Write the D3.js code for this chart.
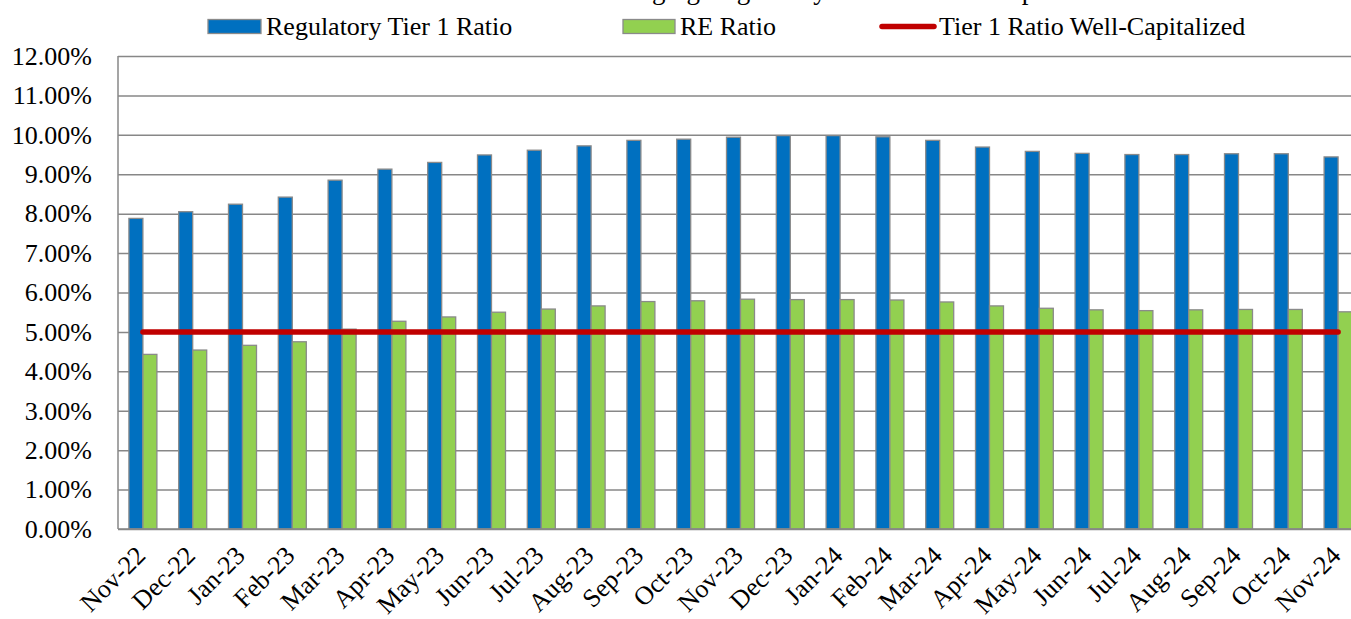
<!DOCTYPE html>
<html>
<head>
<meta charset="utf-8">
<script src="https://cdn.jsdelivr.net/npm/d3@7"></script>
<style>
  body { margin: 0; background: #fff; overflow: hidden; }
  svg { display: block; }
  svg text { font-family: "Liberation Serif", "DejaVu Serif", serif; }
</style>
</head>
<body>
<div id="chart"></div>
<script>
// month labels on the x axis
const months = [
  "Nov-22", "Dec-22", "Jan-23", "Feb-23", "Mar-23", "Apr-23", "May-23",
  "Jun-23", "Jul-23", "Aug-23", "Sep-23", "Oct-23", "Nov-23", "Dec-23",
  "Jan-24", "Feb-24", "Mar-24", "Apr-24", "May-24", "Jun-24", "Jul-24",
  "Aug-24", "Sep-24", "Oct-24", "Nov-24",
];

// values in percent
const tier1Ratio = [
  7.88, 8.05, 8.24, 8.42, 8.85, 9.13, 9.30, 9.49, 9.61, 9.72, 9.86, 9.89,
  9.94, 9.98, 9.98, 9.95, 9.86, 9.69, 9.58, 9.53, 9.50, 9.50, 9.52, 9.52, 9.44,
];
const reRatio = [
  4.43, 4.54, 4.66, 4.75, 5.07, 5.27, 5.38, 5.50, 5.58, 5.66, 5.77, 5.79,
  5.83, 5.82, 5.82, 5.81, 5.76, 5.66, 5.60, 5.56, 5.54, 5.56, 5.57, 5.57, 5.51,
];
const wellCapitalized = [
  5, 5, 5, 5, 5, 5, 5, 5, 5, 5, 5, 5, 5, 5, 5, 5, 5, 5, 5, 5, 5, 5, 5, 5, 5,
];

const yTicks = [0, 1, 2, 3, 4, 5, 6, 7, 8, 9, 10, 11, 12];
const seriesNames = ["Regulatory Tier 1 Ratio", "RE Ratio", "Tier 1 Ratio Well-Capitalized"];
const titleText = "Changing Regulatory Tier 1 Ratio Compared to RE Ratio";

const width = 1351;
const height = 619;
const marginLeft = 118;
const marginTop = 56;
const plotW = 1245; // wider than the window, last bar gets cut like the original
const plotH = 473;

const blue = "#0070C0";
const green = "#92D050";
const red = "#C00000";
const grid = "#878787";
const serif = '"Liberation Serif", "DejaVu Serif", serif';

const svg = d3
  .select("#chart")
  .append("svg")
  .attr("width", width)
  .attr("height", height);

// title, mostly above the top edge (cut off in the original too)
svg
  .append("text")
  .attr("x", 595)
  .attr("y", -1)
  .style("font-size", "27px")
  .text(titleText);

const xScale = d3.scaleBand().domain(months).range([marginLeft, marginLeft + plotW]);
const bw = xScale.bandwidth();
const xSub = d3
  .scaleBand()
  .domain(["tier1", "re"])
  .range([bw / 2 - 14, bw / 2 + 14]);

const yScale = d3.scaleLinear().domain([0, 12]).range([marginTop + plotH, marginTop]);

// gridlines + y labels
const yAxis = d3
  .axisLeft(yScale)
  .tickValues(yTicks)
  .tickSize(-plotW)
  .tickPadding(26)
  .tickFormat((d) => d3.format(".2f")(d) + "%");

const yG = svg
  .append("g")
  .attr("transform", "translate(" + marginLeft + ",0)")
  .call(yAxis)
  .attr("font-family", serif)
  .attr("font-size", 26);
yG.select(".domain").remove();
yG.selectAll("line").attr("stroke", grid).attr("stroke-width", 1.5);
yG.selectAll("text").attr("fill", "#000");

// left axis line
svg
  .append("line")
  .attr("x1", marginLeft)
  .attr("x2", marginLeft)
  .attr("y1", yScale(12))
  .attr("y2", yScale(0))
  .attr("stroke", grid)
  .attr("stroke-width", 1.5);

// bars
svg
  .selectAll(null)
  .data(months)
  .enter()
  .append("rect")
  .attr("x", (d) => xScale(d) + xSub("tier1"))
  .attr("y", (d, i) => yScale(tier1Ratio[i]))
  .attr("width", xSub.bandwidth())
  .attr("height", (d, i) => yScale(0) - yScale(tier1Ratio[i]))
  .attr("fill", blue)
  .attr("stroke", "#8a8a8a")
  .attr("stroke-width", 1.3);

svg
  .selectAll(null)
  .data(months)
  .enter()
  .append("rect")
  .attr("x", (d) => xScale(d) + xSub("re"))
  .attr("y", (d, i) => yScale(reRatio[i]))
  .attr("width", xSub.bandwidth())
  .attr("height", (d, i) => yScale(0) - yScale(reRatio[i]))
  .attr("fill", green)
  .attr("stroke", "#8a8a8a")
  .attr("stroke-width", 1.3);

// bottom axis line
svg
  .append("line")
  .attr("x1", marginLeft)
  .attr("x2", marginLeft + plotW)
  .attr("y1", yScale(0))
  .attr("y2", yScale(0))
  .attr("stroke", grid)
  .attr("stroke-width", 1.5);

// well-capitalized line
const lineGenerator = d3
  .line()
  .x((d, i) => xScale(months[i]) + bw / 2)
  .y((d) => yScale(d));

svg
  .append("path")
  .datum(wellCapitalized)
  .attr("fill", "none")
  .attr("stroke", red)
  .attr("stroke-width", 5.5)
  .attr("stroke-linecap", "round")
  .attr("d", lineGenerator);

// x labels, rotated
svg
  .selectAll(null)
  .data(months)
  .enter()
  .append("text")
  .attr("transform", (d) => "translate(" + (xScale(d) + bw / 2 + 4) + "," + 557 + ") rotate(-45)")
  .attr("text-anchor", "end")
  .style("font-size", "26px")
  .text((d) => d);

// legend
const legend = svg.append("g");

legend
  .append("rect")
  .attr("x", 208)
  .attr("y", 19.5)
  .attr("width", 53)
  .attr("height", 14)
  .attr("fill", blue)
  .attr("stroke", "#8a8a8a")
  .attr("stroke-width", 1.3);
legend
  .append("text")
  .attr("x", 266)
  .attr("y", 34.5)
  .style("font-size", "26px")
  .text(seriesNames[0]);

legend
  .append("rect")
  .attr("x", 623)
  .attr("y", 19.5)
  .attr("width", 52)
  .attr("height", 14)
  .attr("fill", green)
  .attr("stroke", "#8a8a8a")
  .attr("stroke-width", 1.3);
legend
  .append("text")
  .attr("x", 680)
  .attr("y", 34.5)
  .style("font-size", "26px")
  .text(seriesNames[1]);

legend
  .append("line")
  .attr("x1", 882)
  .attr("x2", 934)
  .attr("y1", 26.5)
  .attr("y2", 26.5)
  .attr("stroke", red)
  .attr("stroke-width", 5.5)
  .attr("stroke-linecap", "round");
legend
  .append("text")
  .attr("x", 939)
  .attr("y", 34.5)
  .style("font-size", "26px")
  .text(seriesNames[2]);
</script>
</body>
</html>
